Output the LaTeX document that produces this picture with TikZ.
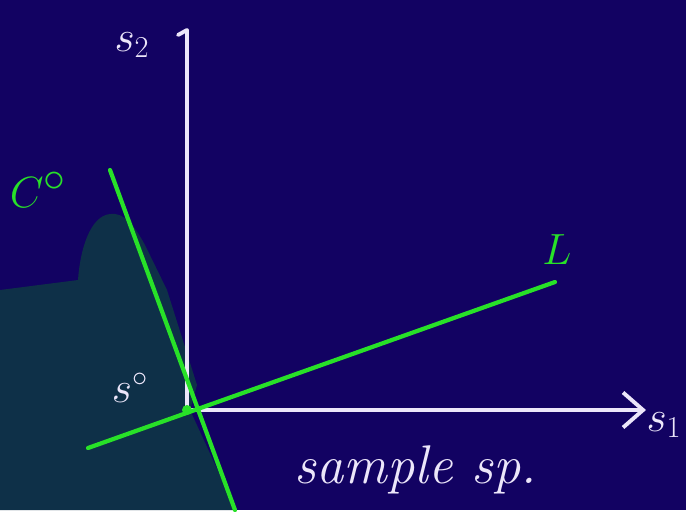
\documentclass[tikz,border=0pt]{standalone}
\usepackage{tikz}
\usetikzlibrary{arrows.meta}
\definecolor{boardBlue}{RGB}{18,2,98}
\definecolor{shadeTeal}{RGB}{14,48,72}
\definecolor{chalkGreen}{RGB}{40,225,40}
\definecolor{chalkWhite}{RGB}{236,230,250}

\begin{document}
\begin{tikzpicture}[
    x=0.02cm, y=-0.02cm,
    axis/.style={line width=2.2pt, draw=chalkWhite, line cap=round, line join=round},
    ray/.style={line width=2.4pt, draw=chalkGreen, line cap=round},
    chalk/.style={text=chalkWhite, font=\fontsize{26}{30}\selectfont\itshape, inner sep=1pt},
    greenchalk/.style={text=chalkGreen, font=\fontsize{36}{40}\selectfont\itshape, inner sep=1pt}
  ]
    \fill[boardBlue] (0,0) rectangle (686,510);
    \fill[shadeTeal] (0,290) -- (78,280) .. controls (80,250) and (90,216) .. (110,214)
        .. controls (124,212) and (134,225) .. (145,245) -- (167,290) -- (197,385)
        -- (190,410) -- (236,510) -- (0,510) -- cycle;

    \coordinate (O) at (187,410);
    \coordinate (s2end) at (187,30);
    \coordinate (s2hook) at (178,35);
    \coordinate (s1end) at (646,410);
    \coordinate (Ctop) at (110,170);
    \coordinate (Cbot) at (235,510);
    \coordinate (Lleft) at (88,448);
    \coordinate (Lright) at (555,282);

    \draw[axis] (O) -- (s2end) -- (s2hook);
    \draw[axis, -{Straight Barb[length=4mm, width=7mm]}] (O) -- (s1end);
    \draw[ray] (Ctop) -- (Cbot);
    \draw[ray] (Lleft) -- (Lright);
    \fill[chalkGreen] (O) circle (5);

    \node[chalk] (s2) at (132,45) {$s_2$};
    \node[chalk] (s1) at (664,425) {$s_1$};
    \node[chalk] (s0) at (130,388) {$s^\circ$};
    \node[greenchalk] (C0) at (38,190) {$C^\circ$};
    \node[greenchalk] (L) at (557,250) {$L$};
    \node[chalk, font=\fontsize{31}{36}\selectfont\itshape] (sample) at (416,470) {sample sp.};
  \end{tikzpicture}
\end{document}
